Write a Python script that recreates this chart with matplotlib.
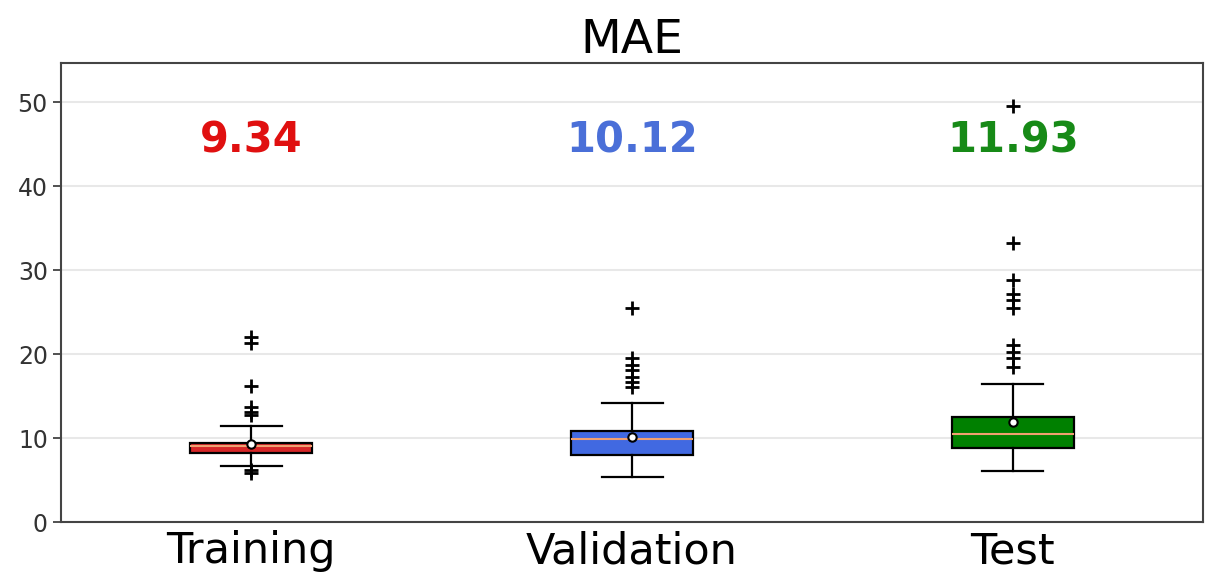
import matplotlib
matplotlib.use('Agg')
import matplotlib.pyplot as plt

labels = ['Training', 'Validation', 'Test']
colors = ['tab:red', 'royalblue', 'green']
text_colors = ['#e01010', '#4a6fd8', '#178a17']
means = [9.34, 10.12, 11.93]
q1 = [8.2, 8.0, 8.8]
med = [9.0, 9.9, 10.5]
q3 = [9.4, 10.8, 12.5]
whislo = [6.7, 5.4, 6.1]
whishi = [11.5, 14.2, 16.4]
fliers = [
    [22.0, 21.3, 16.2, 13.7, 13.1, 12.7, 6.2, 5.9],
    [25.5, 19.5, 18.7, 18.1, 17.3, 16.7, 16.1],
    [49.6, 33.3, 28.8, 27.2, 26.4, 25.5, 21.1, 20.2, 19.5, 18.5],
]

stats = []
for i in range(len(labels)):
    stats.append(dict(label=labels[i], mean=means[i], q1=q1[i], med=med[i], q3=q3[i],
                      whislo=whislo[i], whishi=whishi[i], fliers=fliers[i]))

fig = plt.figure(figsize=(12.06, 5.83), dpi=100)
ax = fig.add_axes([0.0506, 0.1046, 0.947, 0.7874])

bp = ax.bxp(stats, positions=[1, 2, 3], widths=0.32, showmeans=True, patch_artist=True,
            flierprops=dict(marker='+', markeredgecolor='black', markersize=10, markeredgewidth=2),
            medianprops=dict(color='#f0a070', linewidth=1.5),
            meanprops=dict(marker='o', markerfacecolor='white', markeredgecolor='black',
                           markersize=6, markeredgewidth=1.5),
            whiskerprops=dict(linewidth=1.6), capprops=dict(linewidth=1.6),
            boxprops=dict(linewidth=1.6))
for patch, c in zip(bp['boxes'], colors):
    patch.set_facecolor(c)

for i, m in enumerate(means):
    ax.text(i + 1, 45.5, f'{m:.2f}', color=text_colors[i], fontsize=30, fontweight='bold',
            ha='center', va='center')

ax.set_xlim(0.5, 3.5)
ax.set_ylim(0, 54.7)
ax.set_yticks([0, 10, 20, 30, 40, 50])
ax.yaxis.grid(True, color='#e8e8e8', linewidth=1.5)
ax.set_axisbelow(True)
ax.tick_params(axis='y', labelsize=17, colors='#333333', length=6, width=1.2)
ax.tick_params(axis='x', labelsize=31, length=0, pad=6)
for s in ax.spines.values():
    s.set_color('#444444')
    s.set_linewidth(1.5)
ax.set_title('MAE', fontsize=34, pad=6)

fig.savefig('out.png', dpi=100)
